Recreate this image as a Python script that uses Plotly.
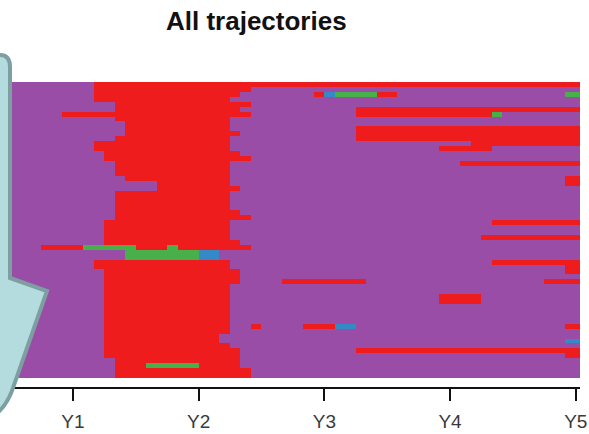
import plotly.graph_objects as go
import numpy as np

# ---- data -------------------------------------------------------------
# state codes: 0 = purple (baseline), 1 = red, 2 = green, 3 = blue
state_names = ["P", "R", "G", "B"]
state_colors = ["#9A4DA6", "#EE1C1C", "#47B04B", "#3489C6"]

n_rows = 60
first_month, last_month = -6, 48          # monthly columns
tick_months = [0, 12, 24, 36, 48]
tick_labels = ["Y1", "Y2", "Y3", "Y4", "Y5"]

# spells: trajectory row, state, start month, end month (exclusive);
# every month not covered by a spell is in the baseline state
spell_row = [
    0, 1, 2, 2, 2, 2, 2, 2, 3, 4, 5, 5, 6, 6, 6, 7, 8, 9, 9, 10, 10, 11, 11,
    12, 12, 13, 13, 14, 15, 16, 16, 17, 18, 19, 19, 20, 20, 21, 22, 23, 24,
    25, 26, 27, 28, 28, 29, 30, 31, 31, 32, 33, 33, 33, 33, 33, 33, 34, 34,
    35, 35, 36, 36, 37, 37, 38, 38, 39, 40, 40, 40, 41, 42, 43, 43, 44, 44,
    45, 46, 47, 48, 49, 49, 49, 49, 49, 50, 51, 52, 52, 53, 54, 54, 55, 55,
    56, 57, 57, 57, 58, 59,
]
spell_state = [
    "R", "R", "R", "R", "B", "G", "R", "G", "R", "R", "R", "R", "R", "R", "G",
    "R", "R", "R", "R", "R", "R", "R", "R", "R", "R", "R", "R", "R", "R", "R",
    "R", "R", "R", "R", "R", "R", "R", "R", "R", "R", "R", "R", "R", "R", "R",
    "R", "R", "R", "R", "R", "R", "R", "G", "G", "R", "G", "R", "G", "B", "G",
    "B", "R", "R", "R", "R", "R", "R", "R", "R", "R", "R", "R", "R", "R", "R",
    "R", "R", "R", "R", "R", "R", "R", "R", "R", "B", "R", "R", "R", "R", "B",
    "R", "R", "R", "R", "R", "R", "R", "G", "R", "R", "R",
]
spell_start = [
    2, 2, 2, 23, 24, 25, 29, 47, 2, 4, 4, 27, -1, 27, 40, 4, 5, 5, 27, 5, 27,
    4, 27, 2, 38, 2, 35, 3, 3, 4, 37, 4, 4, 5, 47, 8, 47, 8, 4, 4, 4, 4, 4, 4,
    3, 40, 3, 3, 3, 39, 3, -3, 1, 5, 6, 9, 10, 5, 12, 5, 12, 2, 40, 2, 47, 3,
    47, 3, 3, 20, 45, 3, 3, 3, 35, 3, 35, 3, 3, 3, 3, 3, 17, 22, 25, 47, 3, 3,
    3, 47, 3, 3, 27, 3, 47, 4, 4, 7, 12, 4, 4,
]
spell_end = [
    49, 17, 16, 24, 25, 29, 31, 49, 15, 17, 16, 49, 17, 40, 41, 15, 15, 15,
    49, 16, 49, 15, 49, 15, 49, 15, 40, 16, 17, 15, 49, 15, 15, 15, 49, 15,
    49, 16, 15, 15, 15, 15, 16, 17, 15, 49, 15, 15, 15, 49, 16, 1, 5, 6, 9,
    10, 17, 12, 14, 12, 14, 15, 49, 15, 49, 16, 49, 16, 16, 28, 49, 15, 15,
    15, 39, 15, 39, 15, 15, 15, 15, 15, 18, 25, 27, 49, 15, 14, 14, 49, 15,
    16, 49, 16, 49, 16, 7, 12, 16, 17, 17,
]

# ---- build the state matrix ------------------------------------------
months = np.arange(first_month, last_month + 1)
z = np.zeros((n_rows, len(months)), dtype=int)
for r, s, a, b in zip(spell_row, spell_state, spell_start, spell_end):
    code = state_names.index(s)
    mask = (months >= a) & (months < b)
    z[r, mask] = code

# discrete colour scale, one band per state
n_states = len(state_colors)
colorscale = []
for i, c in enumerate(state_colors):
    colorscale.append([i / n_states, c])
    colorscale.append([(i + 1) / n_states, c])

fig = go.Figure(
    go.Heatmap(
        z=z,
        x=months + 0.5,
        y=np.arange(n_rows),
        colorscale=colorscale,
        zmin=-0.5,
        zmax=n_states - 0.5,
        showscale=False,
        hoverinfo="skip",
        zsmooth=False,
    )
)

W, H = 589, 434
left, right, top, bottom = 10, 580, 82, 388


def fx(px):
    return (px - left) / (right - left)


def fy(py):
    return (bottom - py) / (bottom - top)


fig.update_layout(
    width=W,
    height=H,
    margin=dict(l=left, r=W - right, t=top, b=H - bottom, autoexpand=False),
    paper_bgcolor="white",
    plot_bgcolor="white",
    showlegend=False,
    xaxis=dict(
        range=[first_month, 48.4],
        tickvals=tick_months,
        ticktext=tick_labels,
        ticks="outside",
        ticklen=12,
        tickwidth=2,
        tickcolor="#111",
        showline=True,
        linecolor="#111",
        linewidth=2,
        showgrid=False,
        zeroline=False,
        anchor="free",
        position=0,
        automargin=False,
        ticklabelstandoff=4,
        tickfont=dict(family="Liberation Sans, Arial", size=19, color="#3a3a3a"),
    ),
    yaxis=dict(
        range=[n_rows - 0.5, -0.5],
        domain=[fy(378), 1],
        visible=False,
        automargin=False,
    ),
)

# title
fig.add_annotation(
    text="<b>All trajectories</b>",
    xref="paper", yref="paper",
    x=fx(256), y=fy(21),
    xanchor="center", yanchor="middle",
    showarrow=False,
    font=dict(family="Liberation Sans, Arial", size=26, color="#111"),
)

# speech-bubble callout on the left edge
pts = [
    ("M", -20, 55), ("L", 0, 55), ("Q", 10, 55, 10, 67), ("L", 10, 278),
    ("L", 47, 291), ("L", 14, 385), ("Q", 8, 405, -5, 415), ("L", -20, 415),
]
path = ""
for p in pts:
    if p[0] == "Q":
        path += f"Q {fx(p[1]):.4f},{fy(p[2]):.4f} {fx(p[3]):.4f},{fy(p[4]):.4f} "
    else:
        path += f"{p[0]} {fx(p[1]):.4f},{fy(p[2]):.4f} "
path += "Z"
fig.add_shape(
    type="path", path=path, xref="paper", yref="paper",
    fillcolor="#B4DCDF", line=dict(color="#7E9FA1", width=4), layer="above",
)

fig.write_html("out.html")
